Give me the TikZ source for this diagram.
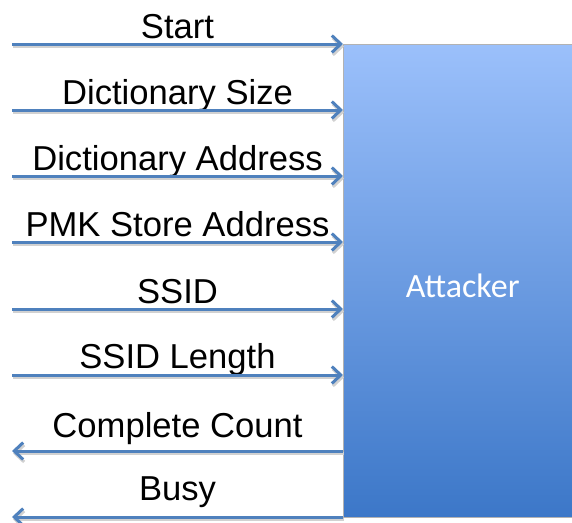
\documentclass[tikz,border=0pt]{standalone}
\usepackage{fontspec}
\setmainfont{Liberation Sans}
\newfontfamily\boxfont{Carlito}
\usetikzlibrary{arrows.meta}
\definecolor{wireblue}{HTML}{4F81BD}
\definecolor{boxtop}{HTML}{9BC0FB}
\definecolor{boxbottom}{HTML}{3C77C8}
\begin{document}
\begin{tikzpicture}[
      x=1pt,y=-1pt,
      >={Straight Barb[length=9pt,width=17pt,line width=3pt]},
      signal/.style={
        wireblue,
        line width=3pt,
        preaction={
          draw=black!18,
          line width=3pt,
          transform canvas={shift={(1pt,-2.5pt)}}
        }
      },
      siglabel/.style={
        anchor=base,
        inner sep=0pt,
        font=\fontsize{34.6}{40}\selectfont
      },
      unit/.style={
        draw=black!30,
        thin,
        top color=boxtop,
        bottom color=boxbottom,
        minimum width=229pt,
        minimum height=473pt,
        anchor=north west,
        text=white,
        font=\boxfont\fontsize{34}{40}\selectfont
      }
    ]
      \useasboundingbox (0,0) rectangle (572,522);

      \node[unit] (attacker) at (343,44) {\hspace*{10pt}\raisebox{-17pt}[0pt][0pt]{Attacker}};

      % inputs
      \foreach \y/\d/\l [count=\i] in {44/6/Start,110/6/Dictionary Size,
          176/6/Dictionary Address,242/6/PMK Store Address,
          309/6/SSID,375/7/SSID Length}
      {
        \coordinate (in\i) at (12,\y);
        \node[siglabel] (inlab\i) at (177.5,\y-\d) {\l};
        \draw[signal,->] (in\i) -- (in\i -| attacker.west);
      }

      % outputs
      \foreach \y/\d/\l [count=\i] in {451/14/Complete Count,517/17/Busy}
      {
        \coordinate (out\i) at (12,\y);
        \node[siglabel] (outlab\i) at (177.5,\y-\d) {\l};
        \draw[signal,->] (out\i -| attacker.west) -- (out\i);
      }
    \end{tikzpicture}
\end{document}
